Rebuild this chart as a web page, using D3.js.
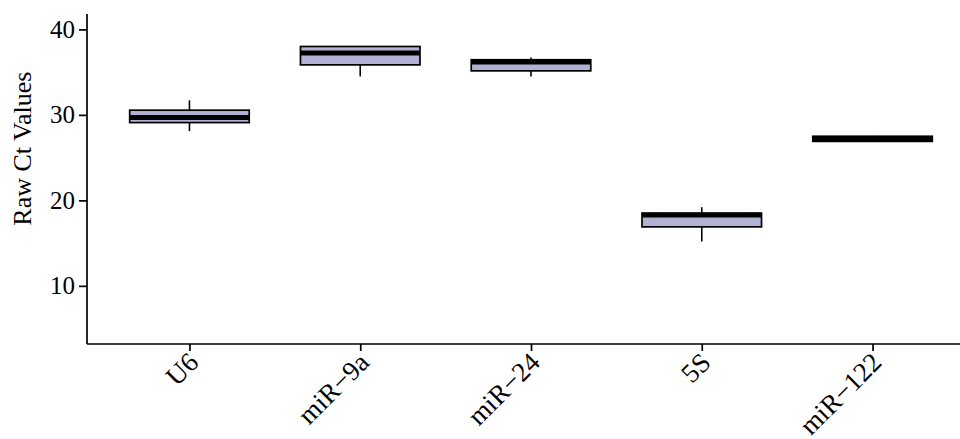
<!DOCTYPE html>
<html>
<head>
<meta charset="utf-8">
<script src="https://cdn.jsdelivr.net/npm/d3@7"></script>
<style>
  body { margin: 0; background: #fff; }
  text { font-family: "Liberation Serif", "DejaVu Serif", serif; }
</style>
</head>
<body>
<svg id="target"></svg>
<script>
const categories = ["U6", "miR\u22129a", "miR\u221224", "5S", "miR\u2212122"];
const whiskerLow  = [28.1, 34.5, 34.5, 15.2, 27.0];
const q1          = [29.1, 35.85, 35.15, 16.9, 26.9];
const median      = [29.7, 37.25, 36.2, 18.3, 27.2];
const q3          = [30.55, 38.0, 36.45, 18.5, 27.5];
const whiskerHigh = [31.7, 38.0, 36.7, 19.2, 27.55];
const yTicks = [10, 20, 30, 40];

const width = 960;
const height = 439;
const margin = {left: 87, top: 14, bottom: 344};
const colors = {
  fill: '#b1b1d3',
  line: '#000'
};

const svg = d3.select('#target')
  .attr('width', width)
  .attr('height', height);

const x = d3.scalePoint()
  .domain(categories)
  .range([margin.left, 975])
  .padding(0.6);

const y = d3.scaleLinear()
  .domain([3.2, 41.8])
  .range([margin.bottom, margin.top]);

const boxW = x.step() * 0.7;

const boxes = categories.map((c, i) => ({
  cat: c, lo: whiskerLow[i], q1: q1[i], med: median[i], q3: q3[i], hi: whiskerHigh[i]
}));

const g = svg.selectAll('.box')
  .data(boxes)
  .enter().append('g')
    .attr('class', 'box')
    .attr('transform', d => 'translate(' + x(d.cat) + ',0)');

// whiskers
g.append('line')
  .attr('y1', d => y(d.hi)).attr('y2', d => y(d.q3))
  .attr('stroke', colors.line).attr('stroke-width', 1.6);
g.append('line')
  .attr('y1', d => y(d.q1)).attr('y2', d => y(d.lo))
  .attr('stroke', colors.line).attr('stroke-width', 1.6);

g.append('rect')
  .attr('x', -boxW / 2)
  .attr('width', boxW)
  .attr('y', d => y(d.q3))
  .attr('height', d => y(d.q1) - y(d.q3))
  .attr('fill', colors.fill)
  .attr('stroke', colors.line)
  .attr('stroke-width', 1.7);

g.append('line')
  .attr('x1', -boxW / 2).attr('x2', boxW / 2)
  .attr('y1', d => y(d.med)).attr('y2', d => y(d.med))
  .attr('stroke', colors.line).attr('stroke-width', 5);

// axes
const yAxis = svg.append('g')
  .attr('transform', 'translate(' + margin.left + ',0)')
  .call(d3.axisLeft(y).tickValues(yTicks).tickSize(8).tickPadding(4));

const xAxis = svg.append('g')
  .attr('transform', 'translate(0,' + margin.bottom + ')')
  .call(d3.axisBottom(x).tickSize(7).tickPadding(4));

[yAxis, xAxis].forEach(a => {
  a.select('.domain').attr('stroke', '#000').attr('stroke-width', 1.7);
  a.selectAll('.tick line').attr('stroke', '#000').attr('stroke-width', 1.7);
  a.selectAll('.tick text').attr('fill', '#000');
});
yAxis.selectAll('.tick text').style('font-size', '25px');
xAxis.selectAll('.tick text').style('font-size', '27px');
yAxis.select('.domain').attr('d', 'M0,' + margin.top + 'V' + margin.bottom);
xAxis.select('.domain').attr('d', 'M' + margin.left + ',0H' + width);

xAxis.selectAll('.tick text')
  .attr('text-anchor', 'end')
  .attr('dy', null)
  .attr('y', 0)
  .attr('transform', 'translate(10,20) rotate(-45)');

svg.append('text')
  .attr('transform', 'translate(31,' + (y(26.05)) + ') rotate(-90)')
  .attr('text-anchor', 'middle')
  .style('font-size', '26px')
  .text('Raw Ct Values');
</script>
</body>
</html>
